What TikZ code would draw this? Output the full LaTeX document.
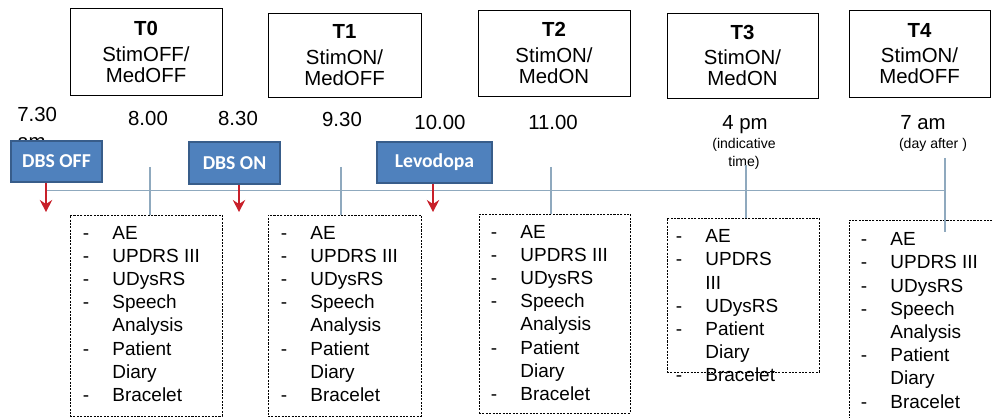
\documentclass[tikz,border=0pt]{standalone}
\usepackage{fontspec}
\setmainfont{Liberation Sans}
\newfontfamily\calfont{Carlito}
\usetikzlibrary{arrows.meta,calc}
\definecolor{TagBlue}{HTML}{4F81BD}
\definecolor{TagEdge}{HTML}{385D8A}
\definecolor{CueRed}{HTML}{C8202A}
\definecolor{AxisGrey}{HTML}{8FA9BE}
\newcommand{\px}{0.025cm}
% list of measures inside the dashed boxes
\newcommand{\fulllist}{\begin{tabular}[t]{@{}p{21pt}@{}l@{}}
-&AE\\-&UPDRS III\\-&UDysRS\\-&Speech\\&Analysis\\-&Patient\\&Diary\\-&Bracelet
\end{tabular}}
\newcommand{\shortlist}{\begin{tabular}[t]{@{}p{21pt}@{}l@{}}
-&AE\\-&UPDRS\\&III\\-&UDysRS\\-&Patient\\&Diary\\-&Bracelet
\end{tabular}}
\tikzset{
  every node/.style={font=\fontsize{14.5}{15}\selectfont, inner sep=0pt},
  phasebox/.style={draw=black, line width=0.6pt, align=center},
  listbox/.style={draw=black, line width=0.55pt, dash pattern=on 1.5pt off 0.9pt},
  listtext/.style={font=\fontsize{13.5}{16.5}\selectfont, anchor=base west},
  tag/.style={fill=TagBlue, draw=TagEdge, line width=1pt, text=white, font=\calfont\bfseries\fontsize{14}{16}\selectfont},
  timelbl/.style={font=\fontsize{14.5}{17.5}\selectfont, anchor=base},
  notelbl/.style={font=\fontsize{10}{12.8}\selectfont, anchor=base},
  axis/.style={draw=AxisGrey, line width=1pt},
  cue/.style={-{Stealth[length=3mm,width=3.1mm,inset=1mm]}, draw=CueRed, line width=1.4pt},
}

\begin{document}
\begin{tikzpicture}[x=0.025cm,y=-0.025cm]
  \clip (0,0) rectangle (992,418);
  % phases
  \node[phasebox, minimum width=152*\px, minimum height=87*\px] (T0) at (146,52) {\textbf{T0}\\[3pt]StimOFF/\\MedOFF};
  \node[phasebox, minimum width=153*\px, minimum height=84*\px] (T1) at (344.5,55) {\textbf{T1}\\[3pt]StimON/\\MedOFF};
  \node[phasebox, minimum width=152*\px, minimum height=86*\px] (T2) at (554,53) {\textbf{T2}\\[3pt]StimON/\\MedON};
  \node[phasebox, minimum width=151*\px, minimum height=85*\px] (T3) at (742.5,55.5) {\textbf{T3}\\[3pt]StimON/\\MedON};
  \node[phasebox, minimum width=141*\px, minimum height=87*\px] (T4) at (919.5,53.5) {\textbf{T4}\\[3pt]StimON/\\MedOFF};

  % clock times
  \node[timelbl, anchor=base west] (tm0) at (17,122) {\begin{tabular}[t]{@{}l@{}}7.30\\[1pt]am\end{tabular}};
  \foreach \x/\y/\t/\n in {148/126/8.00/tm1, 238/126/8.30/tm2, 342/127/9.30/tm3,
      440/130/10.00/tm4, 553/130/11.00/tm5, 745/130/4 pm/tm6, 923/130/7 am/tm7}
    \node[timelbl] (\n) at (\x,\y) {\t};
  \node[notelbl] (nt6) at (744,149) {\begin{tabular}[t]{@{}c@{}}(indicative\\time)\end{tabular}};
  \node[notelbl] (nt7) at (933,149) {(day after )};

  % events
  \node[tag, minimum width=91*\px, minimum height=41*\px] (dbsoff) at (56.5,161.5) {DBS OFF};
  \node[tag, minimum width=91*\px, minimum height=42*\px] (dbson) at (234.5,163) {DBS ON};
  \node[tag, minimum width=115*\px, minimum height=41*\px] (levo) at (434.5,162.5) {Levodopa};

  % measures
  \node[listbox, minimum width=152*\px, minimum height=201*\px] (m0) at (146,315.5) {};
  \node[listbox, minimum width=153*\px, minimum height=201*\px] (m1) at (344.5,315.5) {};
  \node[listbox, minimum width=151*\px, minimum height=199*\px] (m2) at (554.5,313.5) {};
  \node[listbox, minimum width=152*\px, minimum height=154*\px] (m3) at (743,295) {};
  \node[listbox, minimum width=154*\px, minimum height=210*\px] (m4) at (926,325) {};
  \node[listtext] (i0) at ($(m0.north west)+(13,24.5)$) {\fulllist};
  \node[listtext] (i1) at ($(m1.north west)+(13,24.5)$) {\fulllist};
  \node[listtext] (i2) at ($(m2.north west)+(12,24.5)$) {\fulllist};
  \node[listtext] (i3) at ($(m3.north west)+(9,25)$) {\shortlist};
  \node[listtext] (i4) at ($(m4.north west)+(12,26)$) {\fulllist};

  % timeline
  \coordinate (tl0) at (46,190.5);
  \coordinate (tl1) at (945,190.5);
  \draw[axis] (tl0) -- (tl1);
  \foreach \k/\x/\y/\m in {k0/150/167/m0, k1/341/167/m1, k2/551/167/m2, k3/746/165/m3}{
    \coordinate (\k) at (\x,\y);
    \draw[axis] (\k) -- (\m.north -| \k);
  }
  \coordinate (k4) at (945,158);
  \draw[axis] (k4) -- ($(m4.north -| k4)+(0,12)$);

  \foreach \t/\a/\x in {dbsoff/a0/46, dbson/a1/239, levo/a2/433}{
    \coordinate (\a) at (\x,212);
    \draw[cue] (\t.south -| \a) -- (\a);
  }
\end{tikzpicture}
\end{document}
